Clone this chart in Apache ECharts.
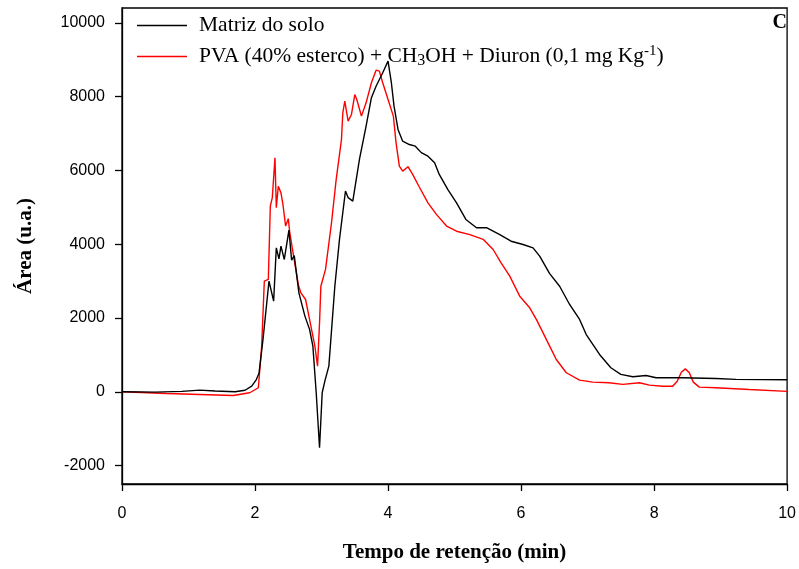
<!DOCTYPE html>
<html>
<head>
<meta charset="utf-8">
<script src="https://cdn.jsdelivr.net/npm/echarts@6/dist/echarts.min.js"></script>
<style>html,body{margin:0;padding:0;background:#fff}#c{width:799px;height:569px}</style>
</head>
<body>
<div id="c"></div>
<script>
var xTicks = [0, 2, 4, 6, 8, 10];
var yTicks = [-2000, 0, 2000, 4000, 6000, 8000, 10000];

var soloTime = [0,0.5,0.9,1.17,1.4,1.7,1.85,1.95,2.02,2.06,2.12,2.21,2.28,2.32,2.36,2.39,2.44,2.51,2.55,2.59,2.66,2.75,2.82,2.87,2.92,2.97,3.01,3.05,3.11,3.20,3.27,3.36,3.40,3.47,3.57,3.67,3.75,3.82,3.92,4.00,4.05,4.09,4.15,4.22,4.32,4.41,4.50,4.60,4.70,4.77,4.90,5.03,5.17,5.33,5.48,5.68,5.85,6.03,6.18,6.28,6.43,6.58,6.73,6.88,6.98,7.18,7.35,7.50,7.68,7.88,8.03,8.43,8.93,9.23,10.0];
var soloArea = [0,-10,10,45,20,0,40,150,330,500,1420,3000,2455,3900,3600,3945,3585,4380,3565,3690,2680,2050,1690,1235,-27,-1518,-27,287,695,2860,4130,5440,5260,5165,6295,7200,7970,8280,8645,8960,8375,7740,7110,6790,6700,6655,6480,6385,6205,5890,5480,5120,4670,4445,4445,4260,4080,3990,3900,3675,3200,2860,2365,1960,1550,1010,650,470,405,440,380,380,360,335,325];

var pvaTime = [0,0.67,1.17,1.67,1.92,2.05,2.06,2.10,2.14,2.20,2.23,2.26,2.30,2.32,2.35,2.39,2.42,2.46,2.50,2.52,2.58,2.65,2.69,2.76,2.82,2.90,2.94,2.97,2.99,3.06,3.15,3.22,3.30,3.32,3.35,3.40,3.45,3.50,3.53,3.60,3.67,3.75,3.82,3.87,3.92,4.00,4.08,4.12,4.17,4.22,4.30,4.37,4.47,4.60,4.73,4.88,5.03,5.23,5.43,5.58,5.70,5.83,5.98,6.13,6.23,6.43,6.53,6.68,6.88,7.08,7.32,7.53,7.78,7.93,8.13,8.28,8.35,8.41,8.47,8.53,8.59,8.68,8.93,9.43,10.0];
var pvaArea = [0,-46,-73,-100,-27,108,150,1235,3000,3045,5030,5260,6340,4985,5570,5390,5075,4490,4690,4350,3675,2910,2680,2500,1960,1235,695,1870,2860,3315,4580,5750,6840,7560,7875,7335,7515,8055,7920,7470,7830,8375,8715,8690,8375,7920,7470,6750,6115,5980,6100,5890,5550,5120,4800,4490,4350,4260,4130,3855,3495,3135,2590,2275,1960,1235,875,515,315,260,245,200,245,180,150,150,290,530,620,515,260,125,110,60,10];

var seriesNames = ['Matriz do solo', 'PVA'];
var legendTexts = {
  'Matriz do solo': 'Matriz do solo',
  'PVA': 'PVA (40% esterco) + CH{sub|3}OH + Diuron (0,1 mg Kg{sup|-1})'
};

function zip(a, b) { return a.map(function (v, i) { return [v, b[i]]; }); }

var chart = echarts.init(document.getElementById('c'), null, {renderer: 'canvas'});
var serif = '"Liberation Serif", "Times New Roman", serif';
var sans = '"Liberation Sans", Arial, sans-serif';

chart.setOption({
  animation: false,
  backgroundColor: '#fff',
  grid: {left: 122, right: 11, top: 8, bottom: 85, show: true, borderColor: '#000', borderWidth: 1.3, backgroundColor: 'transparent'},
  legend: {
    orient: 'vertical', left: 132, top: 8, itemWidth: 50, itemHeight: 1.5, itemGap: 6,
    icon: 'rect',
    data: seriesNames,
    formatter: function (n) { return legendTexts[n]; },
    textStyle: {
      fontFamily: serif, fontSize: 21.5, color: '#000', padding: [0, 0, 0, 7], lineHeight: 25,
      rich: {
        sub: {fontFamily: serif, fontSize: 16, color: '#000', verticalAlign: 'bottom', padding: [10, 0, 0, 0]},
        sup: {fontFamily: serif, fontSize: 15, color: '#000', verticalAlign: 'top', padding: [0, 0, 10, 0]}
      }
    }
  },
  xAxis: {
    type: 'value', min: 0, max: 10, interval: 2,
    name: 'Tempo de retenção (min)', nameLocation: 'middle', nameGap: 58,
    nameTextStyle: {fontFamily: serif, fontWeight: 'bold', fontSize: 21, color: '#000'},
    axisLine: {show: true, onZero: false, lineStyle: {color: '#000', width: 1.3}},
    axisTick: {show: true, inside: false, length: 7, lineStyle: {color: '#000', width: 1.3}},
    axisLabel: {fontFamily: sans, fontSize: 16, color: '#000', margin: 22,
      formatter: function (v) { return xTicks.indexOf(v) >= 0 ? String(v) : ''; }},
    splitLine: {show: false}
  },
  yAxis: {
    type: 'value', min: -2500, max: 10400,
    name: 'Área (u.a.)', nameLocation: 'middle', nameGap: 86, nameRotate: 90,
    nameTextStyle: {fontFamily: serif, fontWeight: 'bold', fontSize: 21, color: '#000'},
    axisLine: {show: true, lineStyle: {color: '#000', width: 1.3}},
    axisTick: {show: true, inside: false, length: 7, customValues: yTicks, lineStyle: {color: '#000', width: 1.3}},
    axisLabel: {fontFamily: sans, fontSize: 16, color: '#000', margin: 17, customValues: yTicks,
      formatter: function (v) { return String(v); }},
    splitLine: {show: false}
  },
  graphic: [{
    type: 'text', right: 12, top: 13,
    style: {text: 'C', fontFamily: serif, fontWeight: 'bold', fontSize: 20, fill: '#000'}
  }],
  series: [
    {name: seriesNames[0], type: 'line', data: zip(soloTime, soloArea), symbol: 'none', smooth: false,
      lineStyle: {color: '#000000', width: 1.4}, itemStyle: {color: '#000000'}, z: 3},
    {name: seriesNames[1], type: 'line', data: zip(pvaTime, pvaArea), symbol: 'none', smooth: false,
      lineStyle: {color: '#ff0000', width: 1.4}, itemStyle: {color: '#ff0000'}, z: 2}
  ]
});
</script>
</body>
</html>
